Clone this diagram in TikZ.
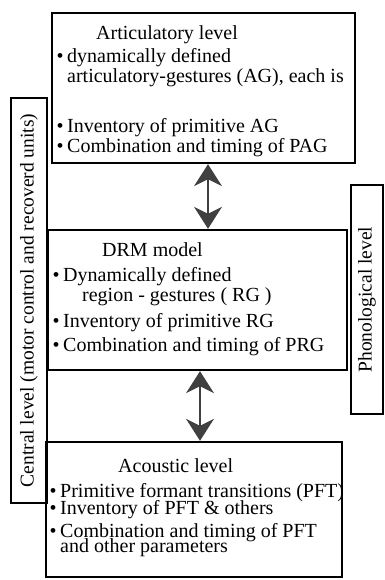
\documentclass[tikz,border=0pt]{standalone}
\usepackage{fontspec}
\setmainfont{Liberation Serif}
\usetikzlibrary{arrows.meta}
\newcommand{\itbul}{\llap{\textbullet\hspace{3.5pt}}}
\begin{document}
\begin{tikzpicture}[x=1pt,y=-1pt,
  box/.style={draw, line width=2.4pt, inner sep=0pt},
  txt/.style={anchor=base west, inner sep=0pt, font=\fontsize{20}{20}\selectfont},
  vtxt/.style={inner sep=0pt, font=\fontsize{19.5}{20}\selectfont, rotate=90},
  dbl/.style={line width=1.6pt, draw=black!75, {Stealth[length=22pt,width=28pt,inset=7pt]}-{Stealth[length=22pt,width=28pt,inset=7pt]}}]
\useasboundingbox (0,0) rectangle (384,580);
% boxes
\node[box, minimum width=303pt, minimum height=150pt] (top) at (203.5,88) {};
\node[box, minimum width=299pt, minimum height=140pt] (mid) at (197.5,300) {};
\node[box, minimum width=296pt, minimum height=135pt] (bot) at (194,509.5) {};
\node[box, minimum width=36pt, minimum height=405pt] (cen) at (29,300.5) {};
\node[box, minimum width=32pt, minimum height=229pt] (pho) at (367,299.5) {};
% side labels
\node[vtxt] (cenlab) at (cen.center) {Central level (motor control and recoverd units)};
\node[vtxt] (pholab) at (pho.center) {Phonological level};
% top box text
\node[txt] (t0) at (96,40) {Articulatory level};
\node[txt] (t1) at (67,63) {\itbul dynamically defined};
\node[txt] (t2) at (67,83) {articulatory-gestures (AG), each is};
\node[txt] (t3) at (67,133) {\itbul Inventory of primitive AG};
\node[txt] (t4) at (67,153) {\itbul Combination and timing of PAG};
% middle box text
\node[txt] (m0) at (102,256) {DRM model};
\node[txt] (m1) at (63,281) {\itbul Dynamically defined};
\node[txt] (m2) at (82,301) {region - gestures ( RG )};
\node[txt] (m3) at (63,327) {\itbul Inventory of primitive RG};
\node[txt] (m4) at (63,351) {\itbul Combination and timing of PRG};
% bottom box text
\node[txt] (b0) at (118,472) {Acoustic level};
\node[txt] (b1) at (60,497) {\itbul Primitive formant transitions (PFT)};
\node[txt] (b2) at (60,514) {\itbul Inventory of PFT \& others};
\node[txt] (b3) at (60,537) {\itbul Combination and timing of PFT};
\node[txt] (b4) at (60,552) {and other parameters};
% arrows
\coordinate (a1) at (208,0);
\coordinate (a2) at (200,0);
\draw[dbl] (top.south -| a1) -- (mid.north -| a1);
\draw[dbl] (mid.south -| a2) -- (bot.north -| a2);
\end{tikzpicture}
\end{document}
